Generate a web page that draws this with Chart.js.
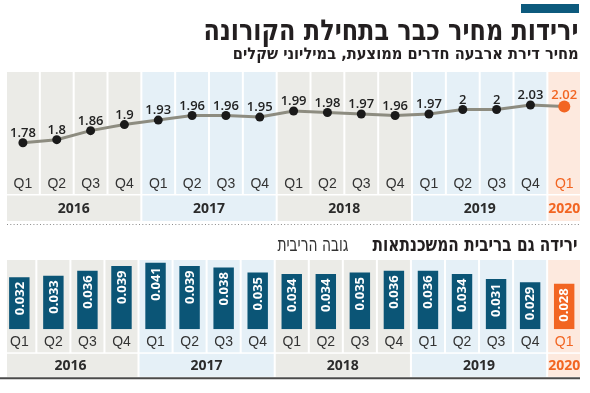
<!DOCTYPE html>
<html><head><meta charset="utf-8">
<script src="https://cdn.jsdelivr.net/npm/chart.js@4"></script>
<style>
html,body{margin:0;padding:0;background:#fff;width:590px;height:393px;overflow:hidden}
#wrap{position:relative;width:590px;height:393px}
canvas{position:absolute;left:0}
#c1{top:0}
#c2{top:230px}
.t{position:absolute;direction:rtl;white-space:nowrap;font-family:"DejaVu Sans Condensed","DejaVu Sans",sans-serif;color:#231f20;transform-origin:right center}
#bar{position:absolute;left:521px;top:4px;width:58px;height:8.5px;background:#0d5a7d}
#title{right:11px;top:12.5px;font-size:29px;font-weight:bold;line-height:34px}
#sub{right:11px;top:43.5px;font-size:16px;font-weight:bold;line-height:20px}
#t2{right:12px;top:232px;font-size:20px;font-weight:bold;line-height:24px}
#t2r{right:242px;top:232px;font-size:20px;font-weight:normal;line-height:24px;color:#333}
</style></head><body>
<div id="wrap">
<canvas id="c1" width="590" height="230"></canvas>
<canvas id="c2" width="590" height="163"></canvas>
<div id="bar"></div>
<div class="t" id="title" data-w="375">ירידות מחיר כבר בתחילת הקורונה</div>
<div class="t" id="sub" data-w="346">מחיר דירת ארבעה חדרים ממוצעת, במיליוני שקלים</div>
<div class="t" id="t2" data-w="205">ירידה גם בריבית המשכנתאות</div>
<div class="t" id="t2r" data-w="71">גובה הריבית</div>
</div>
<script>
// ---- data ----
const quarters = ['Q1','Q2','Q3','Q4','Q1','Q2','Q3','Q4','Q1','Q2','Q3','Q4','Q1','Q2','Q3','Q4','Q1'];
const years = ['2016','2017','2018','2019','2020'];
const quartersPerYear = [4,4,4,4,1];
const housePrice = [1.78,1.8,1.86,1.9,1.93,1.96,1.96,1.95,1.99,1.98,1.97,1.96,1.97,2,2,2.03,2.02];
const mortgageRate = [0.032,0.033,0.036,0.039,0.041,0.039,0.038,0.035,0.034,0.034,0.035,0.036,0.036,0.034,0.031,0.029,0.028];

// ---- style ----
const ORANGE = '#f26522';
const DARKBLUE = '#0b5576';
const yearBg = ['#ebebe7','#e5f0f7','#ebebe7','#e5f0f7','#fde9de'];
const last = quarters.length - 1;

function bandsPlugin(yearH){
  return {
    id:'bands',
    beforeDraw(chart){
      const {ctx, chartArea} = chart;
      const x = chart.scales.x;
      const half = (x.getPixelForValue(1) - x.getPixelForValue(0)) / 2;
      const L = 7, R = 580;
      const top = chartArea.top, qBottom = x.bottom;
      const yTop = qBottom + 1.5, yBottom = qBottom + yearH;
      ctx.save();
      let idx = 0;
      years.forEach((yr, k) => {
        const n = quartersPerYear[k];
        ctx.fillStyle = yearBg[k];
        for (let j = 0; j < n; j++) {
          const c = x.getPixelForValue(idx + j);
          const l = Math.max(L, c - half + 1), r = Math.min(R, c + half - 1);
          ctx.fillRect(l, top, r - l, qBottom - top);
        }
        const a = x.getPixelForValue(idx) - half, b = x.getPixelForValue(idx + n - 1) + half;
        const l = Math.max(L, a + 1), r = Math.min(R, b - 1);
        ctx.fillRect(l, yTop, r - l, yBottom - yTop);
        ctx.fillStyle = k === years.length - 1 ? ORANGE : '#2b2b2b';
        ctx.font = 'bold 14px "Open Sans"';
        ctx.textAlign = 'center'; ctx.textBaseline = 'middle';
        ctx.fillText(yr, (a + b) / 2, (yTop + yBottom) / 2 + 1);
        idx += n;
      });
      ctx.restore();
    }
  };
}

const xAxis = (h) => ({
  offset: true,
  grid: {display: false, drawTicks: false},
  border: {display: false},
  ticks: {
    color: c => c.index === last ? ORANGE : '#333',
    font: {family: '"Liberation Sans"', size: 14},
    padding: 4, maxRotation: 0, autoSkip: false
  },
  afterFit(s){ s.height = h; }
});

// ---- top chart: price line ----
new Chart(document.getElementById('c1'), {
  type: 'line',
  data: {
    labels: quarters,
    datasets: [{
      data: housePrice,
      borderColor: '#8d8c80',
      borderWidth: 3,
      tension: 0,
      pointRadius: c => c.dataIndex === last ? 6 : 4.5,
      pointBackgroundColor: c => c.dataIndex === last ? ORANGE : '#1a1a1a',
      pointBorderWidth: 0
    }]
  },
  options: {
    responsive: false, animation: false,
    layout: {padding: {top: 72, left: 2.3, right: 8.8, bottom: 36}},
    plugins: {legend: {display: false}, tooltip: {enabled: false}},
    scales: {
      x: xAxis(22),
      y: {display: false, min: 1.5857, max: 2.2488}
    }
  },
  plugins: [bandsPlugin(27), {
    id: 'vals',
    afterDatasetsDraw(chart){
      const ctx = chart.ctx;
      const meta = chart.getDatasetMeta(0);
      ctx.save();
      ctx.font = '600 13px "Open Sans"';
      ctx.textAlign = 'center'; ctx.textBaseline = 'alphabetic';
      meta.data.forEach((pt, i) => {
        const r = i === last ? 6 : 4.5;
        ctx.fillStyle = i === last ? ORANGE : '#222';
        ctx.fillText(String(housePrice[i]), pt.x, pt.y - r - 1.5);
      });
      // dotted separator
      ctx.strokeStyle = '#8a8a8a'; ctx.lineWidth = 1;
      ctx.setLineDash([1, 2.3]);
      ctx.beginPath(); ctx.moveTo(7, 224.5); ctx.lineTo(580, 224.5); ctx.stroke();
      ctx.restore();
    }
  }]
});

// ---- bottom chart: mortgage rate bars ----
new Chart(document.getElementById('c2'), {
  type: 'bar',
  data: {
    labels: quarters,
    datasets: [{
      data: mortgageRate,
      backgroundColor: c => c.dataIndex === last ? ORANGE : DARKBLUE,
      barPercentage: 0.6, categoryPercentage: 1
    }]
  },
  options: {
    responsive: false, animation: false,
    layout: {padding: {top: 30, left: 2.3, right: 8.8, bottom: 40.7}},
    plugins: {legend: {display: false}, tooltip: {enabled: false}},
    scales: {
      x: xAxis(23),
      y: {display: false, min: 0, max: 0.04267}
    }
  },
  plugins: [bandsPlugin(24.5), {
    id: 'barvals',
    afterDatasetsDraw(chart){
      const ctx = chart.ctx;
      const meta = chart.getDatasetMeta(0);
      ctx.save();
      ctx.font = 'bold 13px "Open Sans"';
      ctx.fillStyle = '#fff';
      ctx.textAlign = 'right'; ctx.textBaseline = 'middle';
      meta.data.forEach((b, i) => {
        ctx.save();
        ctx.translate(b.x, b.y + 4.5);
        ctx.rotate(-Math.PI / 2);
        ctx.fillText(mortgageRate[i].toFixed(3), 0, 0.5);
        ctx.restore();
      });
      ctx.strokeStyle = '#4a4a4a'; ctx.lineWidth = 2;
      ctx.beginPath(); ctx.moveTo(0, 148.3); ctx.lineTo(580, 148.3); ctx.stroke();
      ctx.restore();
    }
  }]
});

// fit titles to reference widths
document.querySelectorAll('.t').forEach(el => {
  const w = el.getBoundingClientRect().width;
  el.style.transform = 'scaleX(' + (+el.dataset.w / w) + ')';
});
</script>
</body></html>
